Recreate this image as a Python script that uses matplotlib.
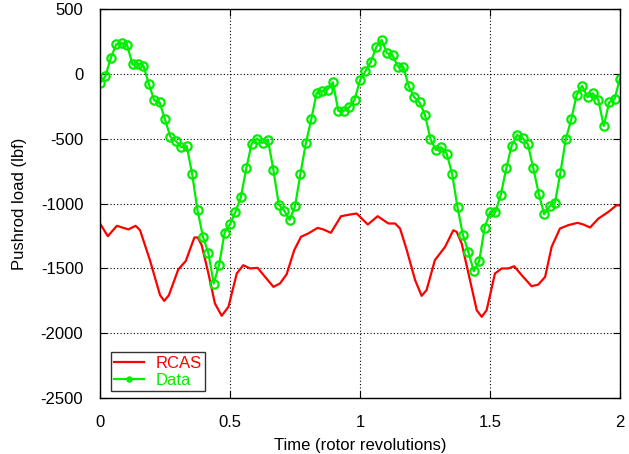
import numpy as np
import matplotlib
matplotlib.use("Agg")
import matplotlib.pyplot as plt

plt.rcParams['font.family'] = ['Liberation Sans', 'DejaVu Sans']
plt.rcParams['axes.unicode_minus'] = False

# Measured data (97 samples, evenly spaced over 2 revolutions)
data_y = [-72, -18, 123, 228, 236, 223, 72, 79, 64, -75, -204, -219, -352, -486, -517, -566, -556, -769, -1052,
          -1255, -1381, -1617, -1471, -1224, -1160, -1065, -952,
          -730, -538, -499, -533, -507, -738, -1008,
          -1054, -1126, -1023,
          -772, -535, -352, -147, -132, -121, -65, -286, -286, -258, -201, -49, 20,
          92, 205, 261, 159, 143, 56, 53, -96, -180, -221, -317, -502, -587, -566, -615, -769, -1029,
          -1242, -1373, -1522, -1447, -1188, -1067, -1065, -931,
          -730, -553, -471, -494, -543, -730, -923,
          -1083, -1021, -993,
          -761, -502, -352, -163, -93, -180, -150, -201, -402, -219, -194, -36]
data_t = np.linspace(0, 2, len(data_y))

# RCAS prediction
rcas_t = [0.0, 0.03, 0.065, 0.109, 0.137, 0.154, 0.192, 0.231, 0.247, 0.265, 0.301, 0.33, 0.363, 0.376,
          0.391, 0.417, 0.442, 0.468, 0.494, 0.526, 0.551, 0.577, 0.606, 0.635, 0.667, 0.692, 0.718,
          0.747, 0.773, 0.801, 0.837, 0.859, 0.888, 0.927, 0.962, 0.987,
          1.03, 1.068, 1.109, 1.135, 1.154, 1.18, 1.212, 1.237, 1.256, 1.288, 1.327, 1.359, 1.372,
          1.391, 1.423, 1.449, 1.468, 1.487, 1.519, 1.545, 1.57, 1.593, 1.622, 1.66, 1.686, 1.712,
          1.737, 1.769, 1.801, 1.837, 1.859, 1.885, 1.917, 1.955, 1.987, 2.0]
rcas_y = [-1154, -1252, -1172, -1200, -1172, -1206, -1437, -1707, -1751, -1707, -1509, -1443, -1262, -1262,
          -1321, -1540, -1771, -1866, -1797, -1540, -1476, -1501, -1496, -1566, -1643, -1617, -1545,
          -1360, -1257, -1231, -1188, -1200, -1226, -1098, -1085, -1077,
          -1162, -1098, -1154, -1154, -1193, -1360, -1591, -1712, -1668, -1437, -1335, -1206, -1219,
          -1308, -1591, -1823, -1874, -1823, -1540, -1501, -1501, -1484, -1553, -1638, -1625, -1566,
          -1335, -1193, -1167, -1149, -1162, -1185, -1116, -1065, -1013, -1015]

xticks = [0, 0.5, 1, 1.5, 2]
xticklabels = ["0", "0.5", "1", "1.5", "2"]
yticks = [500, 0, -500, -1000, -1500, -2000, -2500]

fig = plt.figure(figsize=(6.29, 4.54), dpi=100)
ax = fig.add_axes([100/629, 1-398/454, 520/629, 389/454])

ax.plot(rcas_t, rcas_y, color='#ff0000', lw=1.6, label='RCAS', solid_joinstyle='round')
ax.plot(data_t, data_y, color='#00ee00', lw=1.6, marker='o', ms=6, mfc='none', mec='#00ee00', mew=1.6,
        label='Data')

ax.set_xlim(0, 2)
ax.set_ylim(-2500, 500)
ax.set_xticks(xticks)
ax.set_xticklabels(xticklabels)
ax.set_yticks(yticks)
ax.grid(True, color='black', linestyle=(0, (1, 2)), linewidth=0.8)
ax.tick_params(direction='in', top=True, right=True, length=5, labelsize=12)
ax.tick_params(axis='y', pad=12)
ax.tick_params(axis='x', pad=12)
for s in ax.spines.values():
    s.set_linewidth(1.0)

ax.set_xlabel('Time (rotor revolutions)', fontsize=12, labelpad=6)
ax.set_ylabel('Pushrod load (lbf)', fontsize=12, labelpad=10)

leg = ax.legend(loc='lower left', bbox_to_anchor=(0.008, 0.0), fontsize=12, frameon=True, fancybox=False,
                edgecolor='black', handlelength=1.8, borderpad=0.2, labelspacing=0.15, markerscale=0.5,
                handletextpad=0.7, borderaxespad=0.4)
leg.get_frame().set_linewidth(1.0)
for txt, c in zip(leg.get_texts(), ['#ff0000', '#00ee00']):
    txt.set_color(c)

fig.savefig('out.png', dpi=100)
